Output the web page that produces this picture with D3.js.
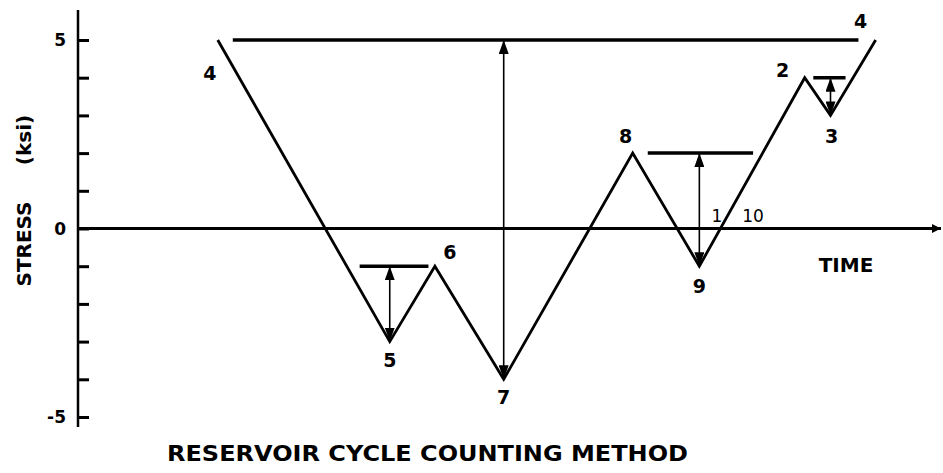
<!DOCTYPE html>
<html>
<head>
<meta charset="utf-8">
<script src="https://cdn.jsdelivr.net/npm/d3@7"></script>
<style>
  body { margin: 0; background: #fff; }
  text { font-family: "DejaVu Sans", sans-serif; font-weight: bold; fill: #000; }
</style>
</head>
<body>
<div id="chart"></div>
<script>
// stress history (turning points), time in arbitrary units
var pointLabels = ["4", "5", "6", "7", "8", "9", "2", "3", "4"];
var timeVals = [6.5, 14.5, 16.6, 19.8, 25.8, 28.9, 33.8, 35.0, 37.1];
var stressVals = [5, -3, -1, -4, 2, -1, 4, 3, 5];

// reservoir "water levels" drawn as horizontal bars
var levelStress = [5, -1, 2, 4];
var levelStart = [7.2, 13.1, 26.5, 34.2];
var levelEnd = [36.3, 16.3, 31.4, 35.7];

// cycle ranges (double arrows)
var arrowTime = [19.8, 14.5, 28.9, 35.0];
var arrowTop = [5, -1, 2, 4];
var arrowBottom = [-4, -3, -1, 3];

var yTicks = [-5, -4, -3, -2, -1, 0, 1, 2, 3, 4, 5];
var yTickLabels = ["-5", "0", "5"];

function drawChart() {
    var w = 943;
    var h = 473;

    var x = d3.scaleLinear().domain([0, 40]).range([78, 938]);
    var y = d3.scaleLinear().domain([-5, 5]).range([417, 40]);

    var svg = d3.select("#chart")
                .append("svg")
                .attr("width", w)
                .attr("height", h);

    var defs = svg.append("defs");
    // arrowhead for the cycle ranges
    defs.append("marker")
        .attr("id", "head")
        .attr("viewBox", "0 0 14 10")
        .attr("refX", 14)
        .attr("refY", 5)
        .attr("markerUnits", "userSpaceOnUse")
        .attr("markerWidth", 14)
        .attr("markerHeight", 10)
        .attr("orient", "auto-start-reverse")
        .append("path")
        .attr("d", "M0,0 L14,5 L0,10 Z")
        .attr("fill", "#000");
    // smaller head for the time axis
    defs.append("marker")
        .attr("id", "axhead")
        .attr("viewBox", "0 0 10 10")
        .attr("refX", 10)
        .attr("refY", 5)
        .attr("markerUnits", "userSpaceOnUse")
        .attr("markerWidth", 9)
        .attr("markerHeight", 9)
        .attr("orient", "auto")
        .append("path")
        .attr("d", "M0,0 L10,5 L0,10 Z")
        .attr("fill", "#000");

    // y axis with ticks on the right side
    var yAxis = d3.axisRight(y)
                  .tickValues(yTicks)
                  .tickSize(11)
                  .tickFormat("");
    var gy = svg.append("g")
                .attr("transform", "translate(" + x(0) + ",0)")
                .call(yAxis);
    gy.select(".domain").remove();
    gy.selectAll(".tick line").attr("stroke", "#000").attr("stroke-width", 3);
    svg.append("line")
        .attr("x1", x(0)).attr("x2", x(0))
        .attr("y1", 10).attr("y2", 427)
        .attr("stroke", "#000").attr("stroke-width", 2.5);

    svg.selectAll("text.ytick")
        .data(yTickLabels)
        .enter()
        .append("text")
        .attr("class", "ytick")
        .attr("x", x(0) - 12)
        .attr("y", function(d){ return y(+d) + 6; })
        .attr("text-anchor", "end")
        .style("font-size", "17px")
        .text(function(d){ return d; });

    // time axis
    svg.append("line")
        .attr("x1", x(0)).attr("x2", 941)
        .attr("y1", y(0)).attr("y2", y(0))
        .attr("stroke", "#000").attr("stroke-width", 3)
        .attr("marker-end", "url(#axhead)");

    // y label
    svg.append("text")
        .attr("transform", "translate(31,244) rotate(-90)")
        .attr("text-anchor", "middle")
        .style("font-size", "20px")
        .text("STRESS");
    svg.append("text")
        .attr("transform", "translate(31,140) rotate(-90)")
        .attr("text-anchor", "middle")
        .style("font-size", "20px")
        .text("(ksi)");

    // reservoir levels
    svg.selectAll("line.level")
        .data(levelStress)
        .enter()
        .append("line")
        .attr("class", "level")
        .attr("x1", function(d, i){ return x(levelStart[i]); })
        .attr("x2", function(d, i){ return x(levelEnd[i]); })
        .attr("y1", function(d){ return y(d); })
        .attr("y2", function(d){ return y(d); })
        .attr("stroke", "#000")
        .attr("stroke-width", 3.5);

    // stress history
    var pts = timeVals.map(function(t, i){ return [t, stressVals[i]]; });
    var line = d3.line()
                 .x(function(d){ return x(d[0]); })
                 .y(function(d){ return y(d[1]); });
    svg.append("path")
        .datum(pts)
        .attr("d", line)
        .attr("fill", "none")
        .attr("stroke", "#000")
        .attr("stroke-width", 2.8)
        .attr("stroke-linejoin", "miter");

    // double arrows
    svg.selectAll("line.range")
        .data(arrowTime)
        .enter()
        .append("line")
        .attr("class", "range")
        .attr("x1", function(d){ return x(d); })
        .attr("x2", function(d){ return x(d); })
        .attr("y1", function(d, i){ return y(arrowTop[i]); })
        .attr("y2", function(d, i){ return y(arrowBottom[i]); })
        .attr("stroke", "#000")
        .attr("stroke-width", 1.6)
        .attr("marker-start", "url(#head)")
        .attr("marker-end", "url(#head)");

    // point labels
    var labelDx = [-8, 0, 15, 0, -7, 0, -22, 1, -15];
    var labelDy = [40, 25, -7, 25, -10, 27, -1, 28, -12];
    svg.selectAll("text.pt")
        .data(pointLabels)
        .enter()
        .append("text")
        .attr("class", "pt")
        .attr("x", function(d, i){ return x(timeVals[i]) + labelDx[i]; })
        .attr("y", function(d, i){ return y(stressVals[i]) + labelDy[i]; })
        .attr("text-anchor", "middle")
        .style("font-size", "19px")
        .text(function(d){ return d; });

    svg.append("text")
        .attr("x", 717).attr("y", 222)
        .attr("text-anchor", "middle")
        .style("font-size", "17px")
        .style("font-weight", "normal")
        .text("1");
    svg.append("text")
        .attr("x", 753).attr("y", 222)
        .attr("text-anchor", "middle")
        .style("font-size", "17px")
        .style("font-weight", "normal")
        .text("10");

    svg.append("text")
        .attr("x", 846).attr("y", 272)
        .attr("text-anchor", "middle")
        .style("font-size", "20px")
        .text("TIME");

    svg.append("text")
        .attr("x", 167).attr("y", 461)
        .attr("textLength", 521)
        .attr("lengthAdjust", "spacingAndGlyphs")
        .style("font-size", "22px")
        .text("RESERVOIR CYCLE COUNTING METHOD");
}

window.onload = drawChart;
</script>
</body>
</html>
